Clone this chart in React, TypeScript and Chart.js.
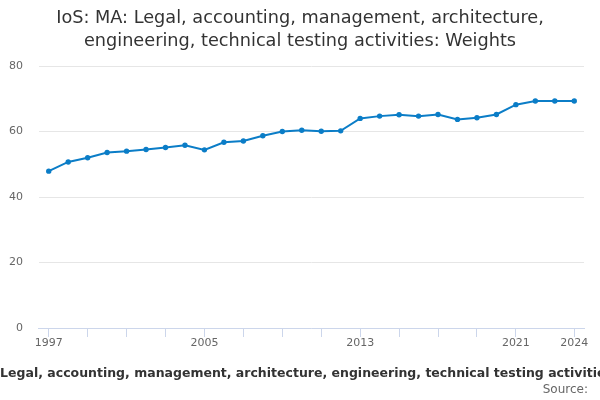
import { useEffect, useRef } from "react";
import { Chart, registerables } from "chart.js";
import type { Plugin } from "chart.js";

Chart.register(...registerables);

const years = [
  "1997", "1998", "1999", "2000", "2001", "2002", "2003", "2004", "2005", "2006",
  "2007", "2008", "2009", "2010", "2011", "2012", "2013", "2014", "2015", "2016",
  "2017", "2018", "2019", "2020", "2021", "2022", "2023", "2024",
];

const weights = [
  47.9, 50.7, 52.0, 53.6, 54.0, 54.5, 55.1, 55.8, 54.4, 56.7,
  57.1, 58.7, 60.0, 60.4, 60.1, 60.2, 64.0, 64.7, 65.1, 64.7,
  65.2, 63.7, 64.2, 65.2, 68.2, 69.3, 69.3, 69.3,
];

const shownYears = ["1997", "2005", "2013", "2021", "2024"];
const yTicks = [0, 20, 40, 60, 80];

const titleLines = [
  "IoS: MA: Legal, accounting, management, architecture,",
  "engineering, technical testing activities: Weights",
];
const xTitle =
  "Legal, accounting, management, architecture, engineering, technical testing activities";
const sourceText = "Source:";

const FONT = "'DejaVu Sans', sans-serif";
const TITLE_SIZE = 17.7;
const TITLE_LINE = 1.3;
const TITLE_PAD_TOP = 7;
const X_TITLE_SIZE = 12.5;
const SOURCE_SIZE = 12;
const BOTTOM_PAD = 3;

// Chart.js centres the titles on the padded box and squeezes the axis title to the
// chart width. The original does neither, so the built-in titles only reserve the
// space (transparent) and this plugin paints the text.
const textPlugin: Plugin<"line"> = {
  id: "overflowText",
  afterDraw(chart) {
    const { ctx, chartArea, width, height } = chart;
    ctx.save();
    ctx.textAlign = "center";
    ctx.textBaseline = "middle";

    ctx.font = `${TITLE_SIZE}px ${FONT}`;
    ctx.fillStyle = "#333333";
    const lh = TITLE_SIZE * TITLE_LINE;
    titleLines.forEach((line, i) => {
      ctx.fillText(line, width / 2, TITLE_PAD_TOP + lh * (i + 0.5));
    });

    const scale = chart.scales.x;
    ctx.font = `bold ${X_TITLE_SIZE}px ${FONT}`;
    ctx.fillText(
      xTitle,
      (chartArea.left + chartArea.right) / 2 - 5,
      scale.bottom - (X_TITLE_SIZE * 1.2) / 2
    );

    ctx.font = `${SOURCE_SIZE}px ${FONT}`;
    ctx.fillStyle = "#666666";
    ctx.textAlign = "right";
    ctx.fillText(sourceText, width - 12, height - BOTTOM_PAD - (SOURCE_SIZE * 1.2) / 2);
    ctx.restore();
  },
};

function App() {
  const canvasRef = useRef<HTMLCanvasElement>(null);

  useEffect(() => {
    if (!canvasRef.current) return;
    const chart = new Chart(canvasRef.current, {
      type: "line",
      data: {
        labels: years,
        datasets: [
          {
            label: "Weights",
            data: weights,
            borderColor: "#0b7dc7",
            backgroundColor: "#0b7dc7",
            borderWidth: 2,
            pointRadius: 1.7,
            pointHoverRadius: 3,
            tension: 0,
          },
        ],
      },
      options: {
        animation: false,
        responsive: true,
        maintainAspectRatio: false,
        layout: { padding: { left: -7, right: 16, top: 0, bottom: BOTTOM_PAD } },
        plugins: {
          legend: { display: false },
          tooltip: { enabled: false },
          title: {
            display: true,
            text: titleLines,
            color: "transparent",
            font: { family: FONT, size: TITLE_SIZE, weight: "normal", lineHeight: TITLE_LINE },
            padding: { top: TITLE_PAD_TOP, bottom: 13 },
          },
          subtitle: {
            display: true,
            position: "bottom",
            align: "end",
            text: sourceText,
            color: "transparent",
            font: { family: FONT, size: SOURCE_SIZE },
            padding: { top: 1, bottom: 0 },
          },
        },
        scales: {
          x: {
            offset: true,
            grid: {
              offset: false,
              drawOnChartArea: false,
              drawTicks: true,
              tickLength: 9,
              color: (ctx) => {
                const i = ctx.index;
                if (i === undefined) return "transparent";
                const last = years.length - 1;
                return (i % 2 === 0 && i < last - 2) || i === last ? "#ccd6eb" : "transparent";
              },
            },
            border: { color: "#ccd6eb" },
            ticks: {
              autoSkip: false,
              maxRotation: 0,
              padding: 0,
              color: "#666666",
              font: { family: FONT, size: 11 },
              callback: (_v, i) => (shownYears.includes(years[i]) ? years[i] : ""),
            },
            title: {
              display: true,
              text: " ",
              color: "transparent",
              font: { family: FONT, size: 12, weight: "bold" },
              padding: { top: 17, bottom: 0 },
            },
          },
          y: {
            min: 0,
            max: 80,
            afterBuildTicks: (scale) => {
              scale.ticks = yTicks.map((v) => ({ value: v }));
            },
            grid: { color: "#e6e6e6", drawTicks: false },
            border: { display: false },
            ticks: {
              padding: 16,
              color: "#666666",
              font: { family: FONT, size: 11 },
            },
          },
        },
      },
      plugins: [textPlugin],
    });
    return () => chart.destroy();
  }, []);

  return (
    <div style={{ position: "fixed", left: 0, top: 0, width: 600, height: 400 }}>
      <canvas ref={canvasRef} />
    </div>
  );
}

export default App;
